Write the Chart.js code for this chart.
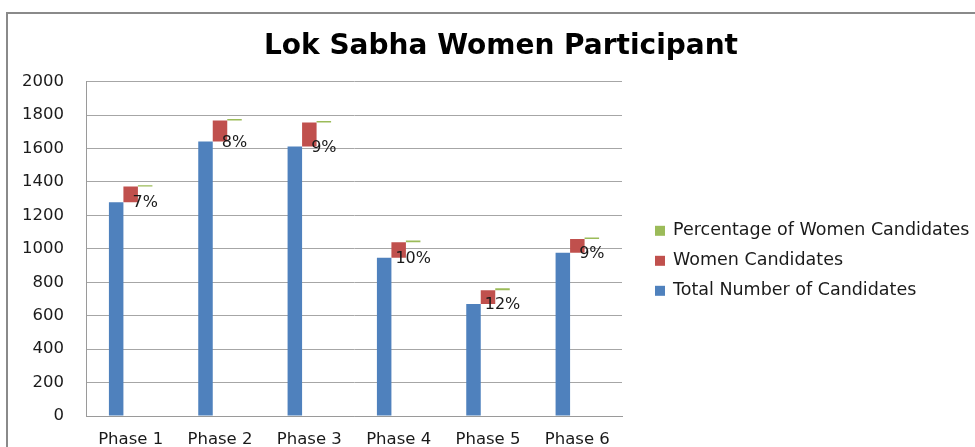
<!DOCTYPE html>
<html>
<head>
<meta charset="utf-8">
<script src="https://cdn.jsdelivr.net/npm/chart.js@4.4.1/dist/chart.umd.min.js"></script>
<style>
    html, body { margin: 0; padding: 0; background: #fff; overflow: hidden; }
    .frame { position: absolute; left: 6px; top: 12px; width: 990px; height: 440px; border: 2px solid #8a8a8a; }
    canvas { display: block; }
</style>
</head>
<body>
<div class="frame"><canvas id="chart" width="990" height="440"></canvas></div>
<script>
'use strict'
const phases = ['Phase 1', 'Phase 2', 'Phase 3', 'Phase 4', 'Phase 5', 'Phase 6'];
const totalCandidates = [1279, 1642, 1612, 946, 670, 976];
const womenCandidates = [94, 126, 143, 93, 82, 83];
const womenPercent = [7, 8, 9, 10, 12, 9];
const yTicks = [0, 200, 400, 600, 800, 1000, 1200, 1400, 1600, 1800, 2000];

// each series starts where the previous one ends, like the excel original
const blueBars = totalCandidates.map(t => [0, t]);
const redBars = totalCandidates.map((t, i) => [t, t + womenCandidates[i]]);
const greenBars = totalCandidates.map((t, i) => [t + womenCandidates[i], t + womenCandidates[i] + womenPercent[i]]);

const percentLabels = {
    id: 'percentLabels',
    afterDatasetsDraw(chart) {
        const ctx = chart.ctx;
        const meta = chart.getDatasetMeta(2);
        const y = chart.scales.y;
        ctx.save();
        ctx.font = '16px "DejaVu Sans"';
        ctx.fillStyle = '#1a1a1a';
        ctx.textAlign = 'center';
        ctx.textBaseline = 'middle';
        meta.data.forEach((bar, i) => {
            ctx.fillText(womenPercent[i] + '%', bar.x, y.getPixelForValue(totalCandidates[i]) + 1);
        });
        ctx.restore();
    }
};

// legend drawn in the empty gutter on the right, newest series on top
const sideLegend = {
    id: 'sideLegend',
    afterDraw(chart) {
        const ctx = chart.ctx;
        const area = chart.chartArea;
        const items = chart.data.datasets.slice().reverse();
        const left = area.right + 33;
        const mid = (area.top + area.bottom) / 2 + 12;
        ctx.save();
        ctx.font = '17.5px "DejaVu Sans"';
        ctx.textBaseline = 'middle';
        items.forEach((ds, i) => {
            const cy = mid + (i - 1) * 30;
            ctx.fillStyle = ds.backgroundColor;
            ctx.fillRect(left, cy - 5, 10, 10);
            ctx.fillStyle = '#1a1a1a';
            ctx.fillText(ds.label, left + 18, cy);
        });
        ctx.restore();
    }
};

new Chart(document.getElementById('chart'), {
    type: 'bar',
    data: {
        labels: phases,
        datasets: [
            { label: 'Total Number of Candidates', data: blueBars, backgroundColor: '#4f81bd' },
            { label: 'Women Candidates', data: redBars, backgroundColor: '#c0504d' },
            { label: 'Percentage of Women Candidates', data: greenBars, backgroundColor: '#9bbb59' }
        ]
    },
    options: {
        responsive: false,
        animation: false,
        categoryPercentage: 0.487,
        barPercentage: 1,
        layout: { padding: { left: 10, right: 14, top: 0, bottom: 4 } },
        plugins: {
            title: {
                display: true,
                text: 'Lok Sabha Women Participant',
                color: '#000',
                font: { family: 'DejaVu Sans', size: 28, weight: 'bold' },
                padding: { top: 16, bottom: 18 }
            },
            legend: { display: false },
            tooltip: { enabled: false }
        },
        scales: {
            x: {
                afterFit: scale => { scale.height = 34; },
                grid: { display: false, drawTicks: false },
                border: { color: '#9a9a9a' },
                ticks: { color: '#1a1a1a', padding: 14, font: { family: 'DejaVu Sans', size: 16.5 } }
            },
            y: {
                min: 0,
                max: 2000,
                afterBuildTicks: scale => { scale.ticks = yTicks.map(v => ({ value: v })); },
                afterFit: scale => { scale.width = 68; },
                grid: { color: '#a6a6a6', drawTicks: false },
                border: { color: '#9a9a9a' },
                ticks: {
                    color: '#1a1a1a',
                    padding: 22,
                    font: { family: 'DejaVu Sans', size: 16.5 },
                    callback: v => String(v)
                }
            },
            legendGutter: {
                position: 'right',
                display: true,
                afterFit: scale => { scale.width = 362; },
                grid: { display: false },
                border: { display: false },
                ticks: { display: false }
            }
        }
    },
    plugins: [percentLabels, sideLegend]
});
</script>
</body>
</html>
